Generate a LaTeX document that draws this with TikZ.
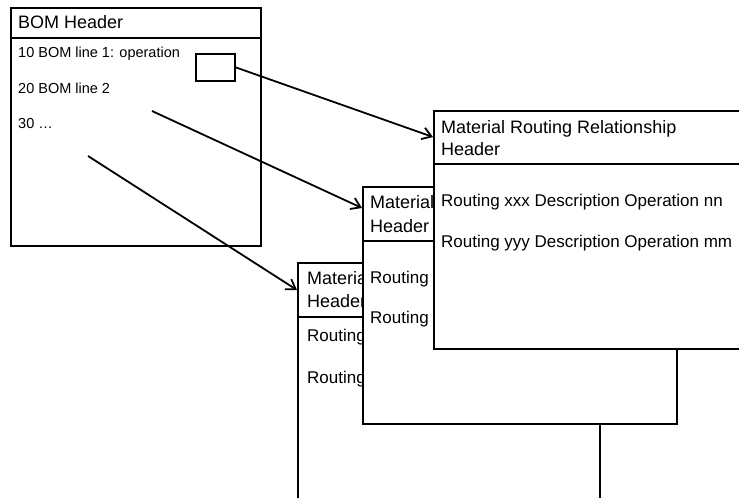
\documentclass[tikz,border=0pt]{standalone}
\usepackage{fontspec}
\setmainfont{Liberation Sans}
\usetikzlibrary{arrows.meta}

\begin{document}
\begin{tikzpicture}
  [x=1pt,y=-1pt,
   box/.style={draw,fill=white,line width=1.5pt,anchor=north west,inner sep=0pt},
   rule/.style={line width=1.5pt},
   pick/.style={draw,line width=1.8pt,anchor=north west,inner sep=0pt,minimum width=39pt,minimum height=27pt},
   head/.style={anchor=base west,inner sep=0pt,font=\fontsize{18}{23}\selectfont},
   item/.style={anchor=base west,inner sep=0pt,font=\fontsize{17}{20}\selectfont},
   bomitem/.style={anchor=base west,inner sep=0pt,font=\fontsize{14.5}{17}\selectfont},
   link/.style={line width=1.8pt,-{Straight Barb[length=9pt,width=12pt]}}]
  \useasboundingbox (0,0) rectangle (739,498);
  \clip (0,0) rectangle (739,498);
  \begin{scope}[overlay]
  \node (bom) at (10,7) [box,minimum width=250pt,minimum height=238pt] {};
  \draw [rule] ([shift={(0,31)}]bom.north west) to ([shift={(0,31)}]bom.north east);
  \node (bomhead) at ([shift={(8,21)}]bom.north west) [head] {BOM Header};
  \node (line1) at ([shift={(8,50)}]bom.north west) [bomitem] {10 BOM line 1: operation};
  \node (line2) at ([shift={(8,86)}]bom.north west) [bomitem] {20 BOM line 2};
  \node (line3) at ([shift={(8,121)}]bom.north west) [bomitem] {30 \dots};
  \node (pick) at (195,53) [pick] {};

  \node (back) at (297,262) [box,minimum width=302pt,minimum height=240pt] {};
  \draw [rule] ([shift={(0,55)}]back.north west) to ([shift={(0,55)}]back.north east);
  \node (backhead1) at ([shift={(10,22)}]back.north west) [head] {Materia};
  \node (backhead2) at ([shift={(10,45)}]back.north west) [head] {Header};
  \node (backop1) at ([shift={(10,79)}]back.north west) [item] {Routing};
  \node (backop2) at ([shift={(10,121)}]back.north west) [item] {Routing};

  \node (mid) at (362,186) [box,minimum width=314pt,minimum height=237pt] {};
  \draw [rule] ([shift={(0,55)}]mid.north west) to ([shift={(0,55)}]mid.north east);
  \node (midhead1) at ([shift={(8,22)}]mid.north west) [head] {Material};
  \node (midhead2) at ([shift={(8,46)}]mid.north west) [head] {Header};
  \node (midop1) at ([shift={(8,97)}]mid.north west) [item] {Routing};
  \node (midop2) at ([shift={(8,137)}]mid.north west) [item] {Routing};

  \node (front) at (433,110) [box,line width=2pt,minimum width=320pt,minimum height=238pt] {};
  \draw [rule,line width=2pt] ([shift={(0,54)}]front.north west) to ([shift={(0,54)}]front.north east);
  \node (fronthead1) at ([shift={(8,23)}]front.north west) [head] {Material Routing Relationship};
  \node (fronthead2) at ([shift={(8,45)}]front.north west) [head] {Header};
  \node (frontop1) at ([shift={(8,96)}]front.north west) [item] {Routing xxx Description Operation nn};
  \node (frontop2) at ([shift={(8,137)}]front.north west) [item] {Routing yyy Description Operation mm};

  \coordinate (from2) at (152,111);
  \coordinate (from3) at (88,156);
  \coordinate (to1) at ([shift={(0,27)}]front.north west);
  \coordinate (to2) at ([shift={(0,22)}]mid.north west);
  \coordinate (to3) at ([shift={(0,28)}]back.north west);
  \draw [link] (pick.east) to (to1);
  \draw [link] (from2) to (to2);
  \draw [link] (from3) to (to3);
  \end{scope}
\end{tikzpicture}
\end{document}
